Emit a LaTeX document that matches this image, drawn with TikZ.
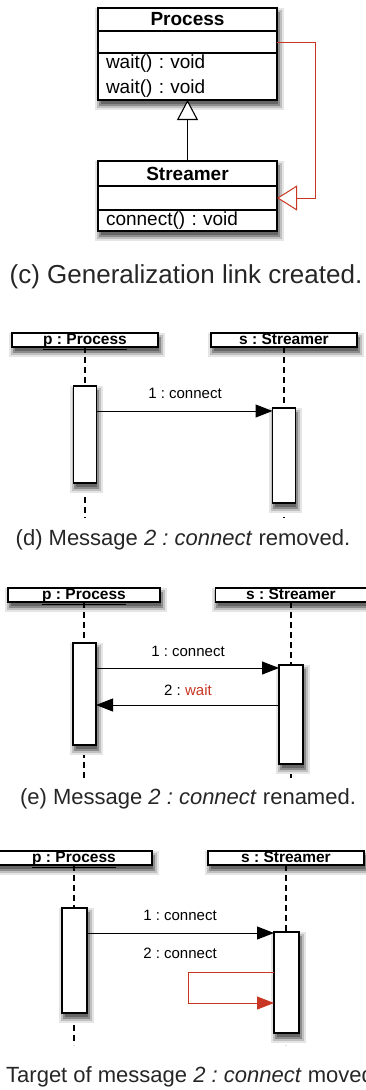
\documentclass[tikz,border=0pt]{standalone}
\usepackage{fontspec}
\setmainfont{Liberation Sans}
\usetikzlibrary{positioning,arrows.meta,shadows,fit,backgrounds}
\definecolor{linkred}{RGB}{200,55,35}
\frenchspacing

\begin{document}
\begin{tikzpicture}[x=1pt,y=-1pt]
\tikzstyle{every node}=[inner sep=0pt];
\tikzstyle{softshadow}=[drop shadow={shadow xshift=1.5pt,shadow yshift=-4.5pt,fill=none,draw=black!10,line width=10pt,opacity=1},
  drop shadow={shadow xshift=1.5pt,shadow yshift=-4.5pt,fill=none,draw=black!25,line width=6pt,opacity=1},
  drop shadow={shadow xshift=1.5pt,shadow yshift=-4.5pt,fill=black!60,draw=black!45,line width=2pt,opacity=1}];
\tikzstyle{compart}=[draw,fill=white,line width=1.1pt,outer sep=0pt,minimum width=179pt,font=\fontsize{19}{25}\selectfont];
\tikzstyle{classname}=[compart,font=\fontsize{19}{25}\selectfont\bfseries];
\tikzstyle{classbox}=[softshadow,inner sep=0pt,outer sep=0pt];
\tikzstyle{gen}=[line width=1.1pt,-{Triangle[open,length=20pt,width=21pt,fill=white]}];
\tikzstyle{redgen}=[linkred,line width=1pt,-{Triangle[open,length=20pt,width=25pt,fill=white]}];
\tikzstyle{caption}=[text=black!85,font=\fontsize{22}{26}\selectfont];
\tikzstyle{objhead}=[draw,fill=white,line width=1.1pt,outer sep=0pt,softshadow,minimum height=14pt,text height=10pt,text depth=1.5pt,font=\fontsize{15.5}{16}\selectfont\bfseries];
\tikzstyle{activation}=[draw,fill=white,line width=1.1pt,outer sep=0pt,softshadow];
\tikzstyle{lifeline}=[line width=1.1pt,dash pattern=on 6pt off 4pt];
\tikzstyle{msg}=[line width=1pt,-{Triangle[length=17pt,width=13pt]}];
\tikzstyle{redmsg}=[msg,linkred];
\tikzstyle{msglabel}=[font=\fontsize{15}{15}\selectfont];

\useasboundingbox (0,0) rectangle (366,1090);
\clip (0,0) rectangle (366,1090);

% (c) class diagram
\node[classname,minimum height=23pt] (proc-name) at (187.5,19.5) {Process};
\node[compart,minimum height=22pt,below=0pt of proc-name] (proc-attr) {};
\node[compart,minimum height=47pt,text width=163pt,align=left,below=0pt of proc-attr] (proc-ops) {wait() : void\\wait() : void};

\node[classname,minimum height=25pt] (str-name) at (187.5,173.5) {Streamer};
\node[compart,minimum height=24pt,below=0pt of str-name] (str-attr) {};
\node[compart,minimum height=21pt,text width=163pt,align=left,below=0pt of str-attr] (str-ops) {connect() : void};

\begin{scope}[on background layer]
\node[classbox,fit=(proc-name)(proc-ops)] (proc-box) {};
\node[classbox,fit=(str-name)(str-ops)] (str-box) {};
\end{scope}

\draw[gen] (str-name.north) -- (proc-ops.south);
\draw[redgen] (proc-attr.east) -- ++(38,0) |- (str-attr.east);

\node[caption,font=\fontsize{26}{30}\selectfont] (cap-c) at (186,277) {(c) Generalization link created.};

% (d) message removed
\node[objhead,minimum width=146pt] (d-p) at (85,340) {\underline{p : Process}};
\node[objhead,minimum width=146pt] (d-s) at (284,340) {\underline{s : Streamer}};
\coordinate (d-pend) at (85,518);
\coordinate (d-send) at (284,518);
\draw[lifeline] (d-p.south) -- (d-pend);
\draw[lifeline] (d-s.south) -- (d-send);
\node[activation,minimum width=23pt,minimum height=97pt] (d-pact) at (85,434.5) {};
\node[activation,minimum width=23pt,minimum height=95pt] (d-sact) at (284,455.5) {};
\coordinate (d-row1) at (0,411);
\node[msglabel] (d-m1) at (185,393) {1 : connect};
\draw[msg] (d-pact.east |- d-row1) -- (d-sact.west |- d-row1);

\node[caption] (cap-d) at (183,540) {(d) Message \textit{2 : connect} removed.};

% (e) message renamed
\node[objhead,minimum width=152pt] (e-p) at (84,595) {\underline{p : Process}};
\node[objhead,minimum width=151pt] (e-s) at (291,595) {\underline{s : Streamer}};
\coordinate (e-pend) at (84,778);
\coordinate (e-send) at (291,778);
\draw[lifeline] (e-p.south) -- (e-pend);
\draw[lifeline] (e-s.south) -- (e-send);
\node[activation,minimum width=23pt,minimum height=102pt] (e-pact) at (84.5,694) {};
\node[activation,minimum width=24pt,minimum height=99pt] (e-sact) at (291,714.5) {};
\coordinate (e-row1) at (0,668);
\coordinate (e-row2) at (0,705);
\node[msglabel] (e-m1) at (188,651) {1 : connect};
\node[msglabel] (e-m2) at (188,690) {2 : \textcolor{linkred}{wait}};
\draw[msg] (e-pact.east |- e-row1) -- (e-sact.west |- e-row1);
\draw[msg] (e-sact.west |- e-row2) -- (e-pact.east |- e-row2);

\node[caption] (cap-e) at (188,799) {(e) Message \textit{2 : connect} renamed.};

% (f) target moved
\node[objhead,minimum width=156pt] (f-p) at (74,858) {\underline{p : Process}};
\node[objhead,minimum width=156pt] (f-s) at (286,858) {\underline{s : Streamer}};
\coordinate (f-pend) at (74,1045);
\coordinate (f-send) at (286,1045);
\draw[lifeline] (f-p.south) -- (f-pend);
\draw[lifeline] (f-s.south) -- (f-send);
\node[activation,minimum width=25pt,minimum height=105pt] (f-pact) at (74.5,960.5) {};
\node[activation,minimum width=25pt,minimum height=101pt] (f-sact) at (286.5,982.5) {};
\coordinate (f-row1) at (0,933);
\coordinate (f-row2) at (0,972);
\coordinate (f-row3) at (0,1003);
\coordinate (f-loop) at (188,0);
\node[msglabel] (f-m1) at (180,915) {1 : connect};
\node[msglabel] (f-m2) at (180,953) {2 : connect};
\draw[msg] (f-pact.east |- f-row1) -- (f-sact.west |- f-row1);
\draw[redmsg] (f-sact.west |- f-row2) -| (f-loop |- f-row3) -- (f-sact.west |- f-row3);

\node[caption,anchor=west] (cap-f) at (6,1077) {Target of message \textit{2 : connect} moved.};
\end{tikzpicture}
\end{document}
